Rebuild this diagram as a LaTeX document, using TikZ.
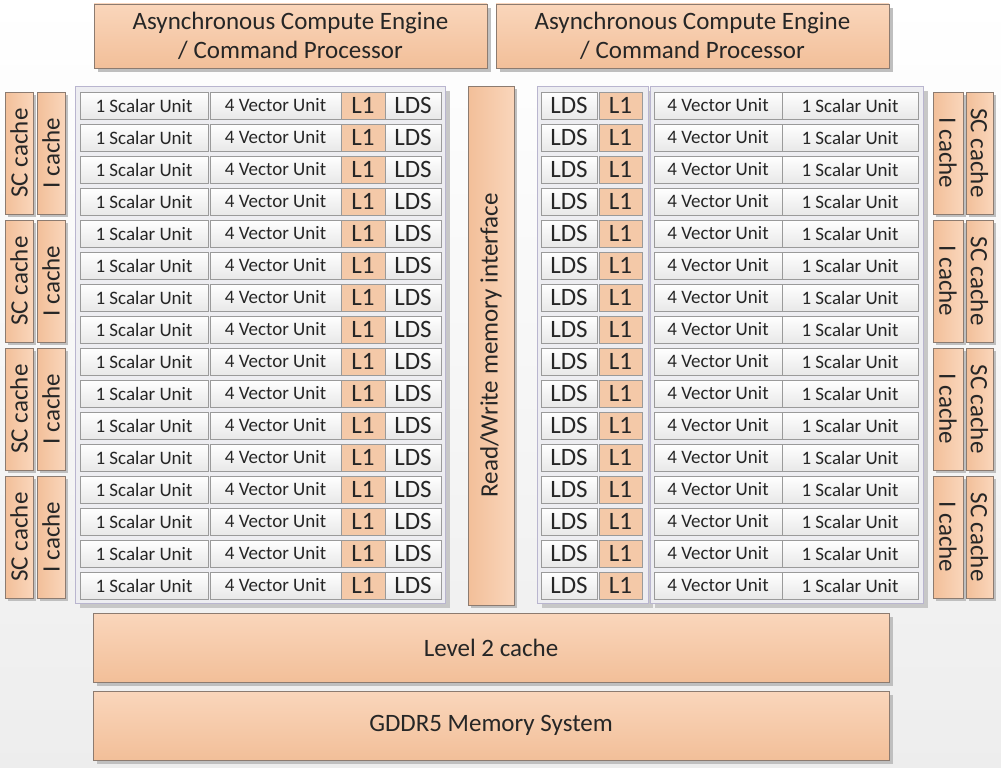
\documentclass[tikz,border=0pt]{standalone}
\usepackage{fontspec}
\setmainfont{Carlito}
\usetikzlibrary{shadows}

\definecolor{orlight}{HTML}{FAD6BB}
\definecolor{ordark}{HTML}{F2BF99}
\definecolor{orline}{HTML}{8C7B70}
\definecolor{unitline}{HTML}{9A9A9A}
\definecolor{panelline}{HTML}{B9B5CF}
\definecolor{panelfill}{HTML}{EDEDF1}
\definecolor{ink}{HTML}{262626}

\begin{document}
\begin{tikzpicture}[x = 1pt, y = -1pt, text = ink,
                    orange/.style = {draw = orline, line width = 0.8pt, top color = orlight,
                                     bottom color = ordark, inner sep = 0pt,
                                     drop shadow = {shadow xshift = 4pt, shadow yshift = -4pt,
                                                    fill = black!25, opacity = 1}},
                    sideways/.style = {draw = orline, line width = 0.8pt, left color = ordark,
                                       right color = orlight, inner sep = 0pt,
                                       drop shadow = {shadow xshift = 3pt, shadow yshift = -3pt,
                                                      fill = black!25, opacity = 1}},
                    unit/.style = {draw = unitline, line width = 0.8pt, top color = white,
                                   bottom color = black!9, inner sep = 0pt, minimum height = 27pt,
                                   font = \fontsize{19}{21}\selectfont},
                    lone/.style = {draw = unitline, line width = 0.8pt, fill = ordark!85,
                                   inner sep = 0pt, minimum height = 27pt,
                                   font = \fontsize{25}{28}\selectfont},
                    lds/.style = {unit, font = \fontsize{25}{28}\selectfont},
                    panel/.style = {draw = panelline, line width = 1pt, fill = panelfill,
                                    drop shadow = {shadow xshift = 5pt, shadow yshift = -5pt,
                                                   fill = black!22, opacity = 1}},
                    big/.style = {font = \fontsize{25}{29}\selectfont, align = center}]

  % background
  \shade [top color = white, bottom color = black!7] (0, 0) rectangle (1001, 768);
  \useasboundingbox (0, 0) rectangle (1001, 768);

  % command processors
  \node [orange, big, minimum width = 393pt, minimum height = 64pt] (acel) at (290.5, 36)
        {Asynchronous Compute Engine\\/ Command Processor};
  \node [orange, big, minimum width = 393pt, minimum height = 64pt] (acer) at (692.5, 36)
        {Asynchronous Compute Engine\\/ Command Processor};

  % panels
  \draw [panel] (75, 86) rectangle (445, 603);
  \draw [panel] (537, 86) rectangle (648, 603);
  \draw [panel] (650, 86) rectangle (923, 603);

  % memory interface
  \node [sideways, big, rotate = 90, minimum width = 519pt, minimum height = 46pt] (rw) at (491, 345.5)
        {Read/Write memory interface};

  % compute units
  \foreach \i in {0, ..., 15} {
    \pgfmathsetmacro{\yy}{105.5 + 32*\i}
    \node [unit, minimum width = 128pt] (ls\i) at (144, \yy) {1 Scalar Unit};
    \node [unit, minimum width = 131pt] (lv\i) at (275.5, \yy) {4 Vector Unit};
    \node [lone, minimum width = 44pt] (ll\i) at (363, \yy) {L1};
    \node [lds, minimum width = 56pt] (lm\i) at (413, \yy) {LDS};

    \node [lds, minimum width = 56pt] (rm\i) at (569, \yy) {LDS};
    \node [lone, minimum width = 43pt] (rl\i) at (620.5, \yy) {L1};
    \node [unit, minimum width = 128pt] (rv\i) at (718, \yy) {4 Vector Unit};
    \node [unit, minimum width = 136pt] (rs\i) at (850, \yy) {1 Scalar Unit};
  }

  % caches
  \foreach \k in {0, ..., 3} {
    \pgfmathsetmacro{\yy}{153 + 128*\k}
    \node [sideways, big, rotate = 90, minimum width = 122pt, minimum height = 28pt] (lsc\k) at (19, \yy) {SC cache};
    \node [sideways, big, rotate = 90, minimum width = 122pt, minimum height = 28pt] (lic\k) at (51, \yy) {I cache};
    \node [sideways, big, rotate = -90, minimum width = 122pt, minimum height = 30pt] (ric\k) at (948, \yy) {I cache};
    \node [sideways, big, rotate = -90, minimum width = 122pt, minimum height = 27pt] (rsc\k) at (979.5, \yy) {SC cache};
  }

  % memory
  \node [orange, big, minimum width = 796pt, minimum height = 69pt] (ltwo) at (491, 647.5) {Level 2 cache};
  \node [orange, big, minimum width = 796pt, minimum height = 69pt] (gddr) at (491, 725.5) {GDDR5 Memory System};
\end{tikzpicture}
\end{document}
